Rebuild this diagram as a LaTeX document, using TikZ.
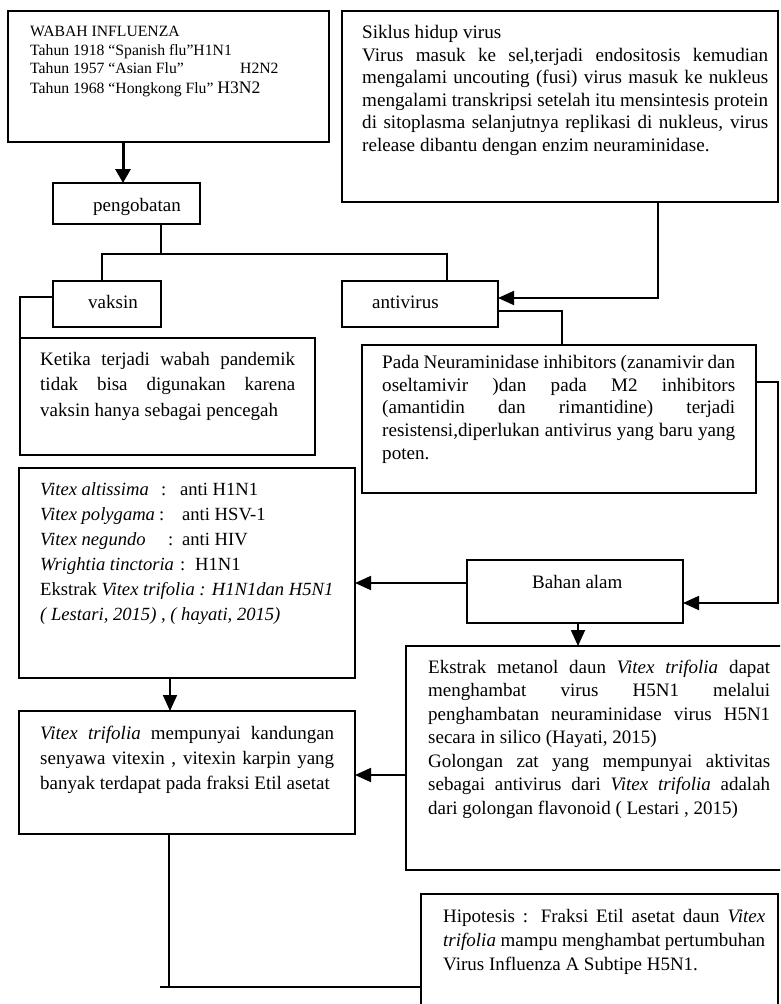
\documentclass[tikz,border=0pt]{standalone}
\usepackage{fontspec}
\setmainfont{Liberation Serif}
\usetikzlibrary{arrows.meta}
\newcommand{\fl}{\rule{0pt}{14pt}}
\begin{document}
\begin{tikzpicture}[x=1pt,y=-1pt,
  bx/.style={draw, line width=1.8pt, inner sep=0pt, outer sep=0pt, anchor=north west},
  txt/.style={inner sep=0pt, anchor=north west, align=justify},
  lbl/.style={inner sep=0pt, anchor=base west, font=\fontsize{19}{22}\selectfont},
  conn/.style={line width=1.8pt},
  arr/.style={line width=1.8pt, -{Triangle[width=14pt,length=16pt]}},
  bigarr/.style={line width=3pt, -{Triangle[width=15pt,length=14pt]}}]
\useasboundingbox (0,0) rectangle (780,1004);
\clip (0,0) rectangle (780,1004);
\fill[white] (0,0) rectangle (780,1004);

% boxes
\node[bx, minimum width=321pt, minimum height=131pt] (wabah) at (8,11) {};
\node[bx, minimum width=436pt, minimum height=191pt] (siklus) at (342,11) {};
\node[bx, minimum width=147pt, minimum height=41pt] (peng) at (53,183) {};
\node[bx, minimum width=108pt, minimum height=46pt] (vaksin) at (53,281) {};
\node[bx, minimum width=156pt, minimum height=46pt] (antiv) at (342,281) {};
\node[bx, minimum width=295pt, minimum height=117pt] (ketika) at (20,338) {};
\node[bx, minimum width=394pt, minimum height=148pt] (pada) at (362,345) {};
\node[bx, minimum width=336pt, minimum height=210pt] (vitex) at (19,468) {};
\node[bx, minimum width=216pt, minimum height=63pt] (bahan) at (467,560) {};
\node[bx, minimum width=384pt, minimum height=224pt] (ekstrak) at (406,646) {};
\node[bx, minimum width=336pt, minimum height=123pt] (vtrif) at (19,711) {};
\node[bx, minimum width=357pt, minimum height=121pt] (hipo) at (421,894) {};

% texts
\node[txt, align=left, font=\fontsize{15.7}{18.3}\selectfont] (twabah) at (30,22.7)
 {\fl WABAH INFLUENZA\\
  Tahun 1918 “Spanish flu”H1N1\\
  \makebox[210pt][l]{Tahun 1957 “Asian Flu”}H2N2\\[1.7pt]
  Tahun 1968 “Hongkong Flu” {\fontsize{17.6}{18.3}\selectfont H3N2}};

\node[txt, text width=406pt, font=\fontsize{19.1}{22.6}\selectfont] (tsiklus) at (362,24.3)
 {\fl Siklus hidup virus\par
  Virus masuk ke sel,terjadi endositosis kemudian\linebreak
  mengalami uncouting (fusi) virus masuk ke nukleus\linebreak
  mengalami transkripsi setelah itu mensintesis protein\linebreak
  di sitoplasma selanjutnya replikasi di nukleus, virus\linebreak
  release dibantu dengan enzim neuraminidase.};

\node[lbl] (lpeng) at (93,211) {pengobatan};
\node[lbl] (lvak) at (88,308) {vaksin};
\node[lbl] (lanti) at (372,308) {antivirus};
\node[lbl] (lbahan) at (532,588) {Bahan alam};

\node[txt, text width=255pt, font=\fontsize{19}{25.5}\selectfont] (tketika) at (40,351)
 {\fl Ketika terjadi wabah pandemik\linebreak
  tidak bisa digunakan karena\linebreak
  vaksin hanya sebagai pencegah};

\node[txt, text width=353pt, font=\fontsize{19.1}{22.8}\selectfont] (tpada) at (382,354)
 {\fl Pada Neuraminidase inhibitors (zanamivir dan\linebreak
  oseltamivir )dan pada M2 inhibitors\linebreak
  (amantidin dan rimantidine) terjadi\linebreak
  resistensi,diperlukan antivirus yang baru yang\linebreak
  poten.};

\node[txt, align=left, font=\fontsize{18.6}{24.9}\selectfont] (tvitex) at (40,481.7)
 {\fl\makebox[121pt][l]{\textit{Vitex altissima}}\makebox[19pt][l]{:}anti H1N1\\
  \makebox[119pt][l]{\textit{Vitex polygama}}\makebox[23pt][l]{:}anti HSV-1\\
  \makebox[128pt][l]{\textit{Vitex negundo}}\makebox[14pt][l]{:}anti HIV\\
  \makebox[140pt][l]{\textit{Wrightia tinctoria}}\makebox[15pt][l]{:}H1N1\\
  Ekstrak \textit{Vitex trifolia : H1N1dan H5N1}\\
  \textit{( Lestari, 2015) , ( hayati, 2015)}};

\node[txt, text width=294pt, font=\fontsize{19}{25}\selectfont] (tvtrif) at (40,725)
 {\fl\textit{Vitex trifolia} mempunyai kandungan\linebreak
  senyawa vitexin , vitexin karpin yang\linebreak
  banyak terdapat pada fraksi Etil asetat};

\node[txt, text width=342pt, font=\fontsize{19}{23.5}\selectfont] (tekstrak) at (428,659)
 {\fl Ekstrak metanol daun \textit{Vitex trifolia} dapat\linebreak
  menghambat virus H5N1 melalui\linebreak
  penghambatan neuraminidase virus H5N1\linebreak
  secara in silico (Hayati, 2015)\par
  Golongan zat yang mempunyai aktivitas\linebreak
  sebagai antivirus dari \textit{Vitex trifolia} adalah\linebreak
  dari golongan flavonoid ( Lestari , 2015)};

\node[txt, text width=322pt, font=\fontsize{19}{24}\selectfont] (thipo) at (443,908.7)
 {\fl Hipotesis : Fraksi Etil asetat daun \textit{Vitex}\linebreak
  \textit{trifolia} mampu menghambat pertumbuhan\linebreak
  Virus Influenza A Subtipe H5N1.};

% connectors
\draw[bigarr] (123,0 |- wabah.south) -- (123,0 |- peng.north);
\coordinate (bar) at (161,254);
\draw[conn] (161,0 |- peng.south) -- (bar);
\draw[conn] (102,0 |- vaksin.north) |- (447,254) -- (447,0 |- antiv.north);
\draw[conn] (vaksin.west |- 0,297) -| (ketika.north west);
\draw[arr] (658,0 |- siklus.south) |- (antiv.east |- 0,298);
\draw[conn] (antiv.east |- 0,311) -| (562,0 |- pada.north);
\coordinate (rc) at (778,603);
\draw[arr] (pada.east |- 0,382) -| (rc) -- (bahan.east |- rc);
\draw[arr] (bahan.west |- 0,583) -- (vitex.east |- 0,583);
\draw[arr] (578,0 |- bahan.south) -- (578,0 |- ekstrak.north);
\draw[arr] (170,0 |- vitex.south) -- (170,0 |- vtrif.north);
\draw[arr] (ekstrak.west |- 0,775) -- (vtrif.east |- 0,775);
\coordinate (jn) at (169,987);
\coordinate (jl) at (160,987);
\draw[conn] (169,0 |- vtrif.south) -- (jn);
\draw[conn] (jl) -- (hipo.west |- jl);
\end{tikzpicture}
\end{document}
